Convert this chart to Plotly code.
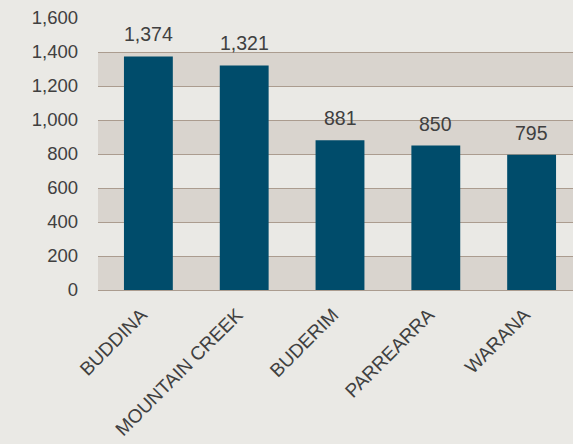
import plotly.graph_objects as go

suburbs = ["BUDDINA", "MOUNTAIN CREEK", "BUDERIM", "PARREARRA", "WARANA"]
counts = [1374, 1321, 881, 850, 795]
yticks = [0, 200, 400, 600, 800, 1000, 1200, 1400, 1600]

bg = "#EAE9E5"
band = "#D9D4CE"
grid = "#AB9C8F"
bar_col = "#004C6B"
txt = "#404040"

fig = go.Figure()
fig.add_trace(go.Bar(x=suburbs, y=counts, width=0.51, marker_color=bar_col,
                     marker_line_width=0))

# value labels above the bars
for s, v in zip(suburbs, counts):
    fig.add_annotation(x=s, y=v, text=f"{v:,}", showarrow=False, yshift=22,
                       font=dict(size=19.5, color=txt))

# alternating shaded bands between gridlines
for lo, hi in zip(yticks[:-1:2], yticks[1::2]):
    fig.add_shape(type="rect", xref="paper", yref="y", x0=0, x1=1, y0=lo, y1=hi,
                  fillcolor=band, line_width=0, layer="below")

fig.update_layout(
    width=573, height=444,
    margin=dict(l=98, r=0, t=18, b=154, autoexpand=False),
    paper_bgcolor=bg, plot_bgcolor=bg,
    font=dict(family="Liberation Sans, Arial", size=18, color=txt),
    showlegend=False,
)
fig.update_xaxes(range=[-0.526, 4.432], tickangle=-45, showgrid=False,
                 showline=False, ticks="", ticklabelstandoff=9, ticklabelshift=-7,
                 automargin=False, tickfont=dict(size=19, color=txt))
fig.update_yaxes(range=[0, 1600], tickvals=yticks, tickformat=",",
                 showgrid=True, gridcolor=grid, gridwidth=1,
                 zeroline=True, zerolinecolor=grid, zerolinewidth=1,
                 automargin=False, ticks="", ticklabelstandoff=19,
                 tickfont=dict(size=18.5, color=txt))

fig.write_html("out.html", config={"displayModeBar": False},
               post_script="document.body.style.margin='0';")
